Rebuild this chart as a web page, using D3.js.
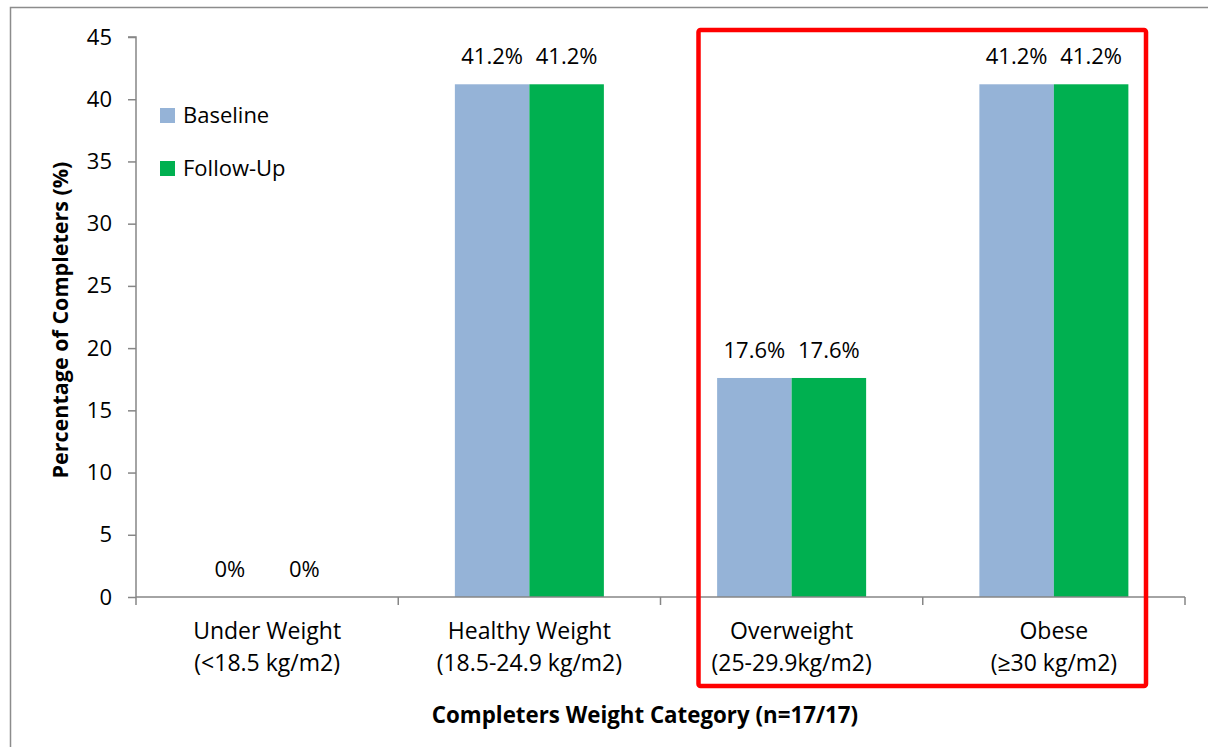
<!DOCTYPE html>
<html>
<head>
<meta charset="utf-8">
<script src="https://cdn.jsdelivr.net/npm/d3@7/dist/d3.min.js"></script>
<style>
  html, body { margin: 0; padding: 0; background: #fff; }
  svg { display: block; font-family: "Open Sans", Lato, sans-serif; }
</style>
</head>
<body>
<svg id="chart" width="1208" height="747"></svg>
<script>
const categories = ["Under Weight|(<18.5 kg/m2)", "Healthy Weight|(18.5-24.9 kg/m2)", "Overweight|(25-29.9kg/m2)", "Obese|(≥30 kg/m2)"];
const seriesNames = ["Baseline", "Follow-Up"];
const baselineValues = [0, 41.2, 17.6, 41.2];
const followUpValues = [0, 41.2, 17.6, 41.2];
const valueLabels = [["0%", "0%"], ["41.2%", "41.2%"], ["17.6%", "17.6%"], ["41.2%", "41.2%"]];
const yTicks = [0, 5, 10, 15, 20, 25, 30, 35, 40, 45];
const colors = ["#95B3D7", "#00B050"];
const highlighted = ["Overweight|(25-29.9kg/m2)", "Obese|(≥30 kg/m2)"];

const svg = d3.select("#chart");
const fs = 22;
const ff = '"Open Sans", Lato, sans-serif';

// outer border
svg.append("rect").attr("x", 10.5).attr("y", 7.5).attr("width", 1400).attr("height", 1000)
  .attr("fill", "none").attr("stroke", "#8c8c8c").attr("stroke-width", 1.5);

const x = d3.scaleBand().domain(categories).range([136, 1185]).paddingInner(0).paddingOuter(0);
const y = d3.scaleLinear().domain([0, 45]).range([597, 37]);
const xs = d3.scaleBand().domain(seriesNames).range([0, x.bandwidth()]).paddingOuter(0.76).paddingInner(0);

const axisColor = "#868686";

// y axis
const yAxis = svg.append("g").attr("transform", "translate(136,0)")
  .call(d3.axisLeft(y).tickValues(yTicks).tickSize(8).tickPadding(16).tickFormat(d3.format("d")))
  .attr("font-family", ff).attr("font-size", fs);
yAxis.select(".domain").attr("stroke", axisColor).attr("stroke-width", 1.5).attr("d", `M-8,${y(45)}H0V${y(0)}`);
yAxis.selectAll(".tick line").attr("stroke", axisColor).attr("stroke-width", 1.5);
yAxis.selectAll(".tick text").attr("fill", "#000");

// bars
const data = categories.map((c, i) => ({ cat: c, vals: [baselineValues[i], followUpValues[i]] }));
const groups = svg.append("g").selectAll("g").data(data).join("g")
  .attr("transform", d => `translate(${x(d.cat)},0)`);
groups.selectAll("rect").data(d => d.vals.map((v, j) => ({ v, s: seriesNames[j], j })))
  .join("rect")
  .attr("x", d => xs(d.s))
  .attr("width", xs.bandwidth())
  .attr("y", d => y(d.v))
  .attr("height", d => y(0) - y(d.v))
  .attr("fill", d => colors[d.j]);
groups.selectAll("text.val").data((d, i) => d.vals.map((v, j) => ({ v, s: seriesNames[j], lab: valueLabels[i][j] })))
  .join("text").attr("class", "val")
  .attr("x", d => xs(d.s) + xs.bandwidth() / 2)
  .attr("y", d => y(d.v) - 20)
  .attr("text-anchor", "middle")
  .attr("font-size", fs).attr("fill", "#000")
  .text(d => d.lab);

// x axis
const xAxis = svg.append("g").attr("transform", `translate(0,${y(0)})`)
  .call(d3.axisBottom(x).tickSize(0).tickFormat(""));
xAxis.select(".domain").attr("stroke", axisColor).attr("stroke-width", 1.5).attr("d", `M136,0H1185`);
xAxis.selectAll(".tick line").remove();
const boundaries = categories.map(c => x(c)).concat([x(categories[categories.length - 1]) + x.bandwidth()]);
xAxis.selectAll("line.bound").data(boundaries).join("line").attr("class", "bound")
  .attr("x1", d => d).attr("x2", d => d).attr("y1", 0).attr("y2", 8)
  .attr("stroke", axisColor).attr("stroke-width", 1.5);
const catLabels = svg.append("g").selectAll("text").data(categories).join("text")
  .attr("x", d => x(d) + x.bandwidth() / 2)
  .attr("text-anchor", "middle").attr("font-size", 23).attr("fill", "#000");
catLabels.each(function (d) {
  const parts = d.split("|");
  const t = d3.select(this);
  parts.forEach((p, k) => t.append("tspan").attr("x", x(d) + x.bandwidth() / 2).attr("y", 639 + k * 32).text(p));
});

// axis titles
svg.append("text").attr("x", 645).attr("y", 723).attr("text-anchor", "middle")
  .attr("font-size", 22.3).attr("font-weight", "bold").text("Completers Weight Category (n=17/17)");
svg.append("text").attr("transform", `translate(68,320) rotate(-90)`).attr("text-anchor", "middle")
  .attr("font-size", 21.5).attr("font-weight", "bold").text("Percentage of Completers (%)");

// legend
const legend = svg.append("g").selectAll("g").data(seriesNames).join("g")
  .attr("transform", (d, i) => `translate(160,${108 + i * 53})`);
legend.append("rect").attr("width", 15).attr("height", 15).attr("fill", (d, i) => colors[i]);
legend.append("text").attr("x", 23).attr("y", 15).attr("font-size", fs).attr("fill", "#000").text(d => d);

// red highlight box
const hx0 = x(highlighted[0]) + 38, hx1 = x(highlighted[1]) + x.bandwidth() - 39;
svg.append("rect").attr("x", hx0).attr("y", 30).attr("width", hx1 - hx0).attr("height", 656)
  .attr("rx", 2).attr("fill", "none").attr("stroke", "#ff0000").attr("stroke-width", 4.5);
</script>
</body>
</html>
